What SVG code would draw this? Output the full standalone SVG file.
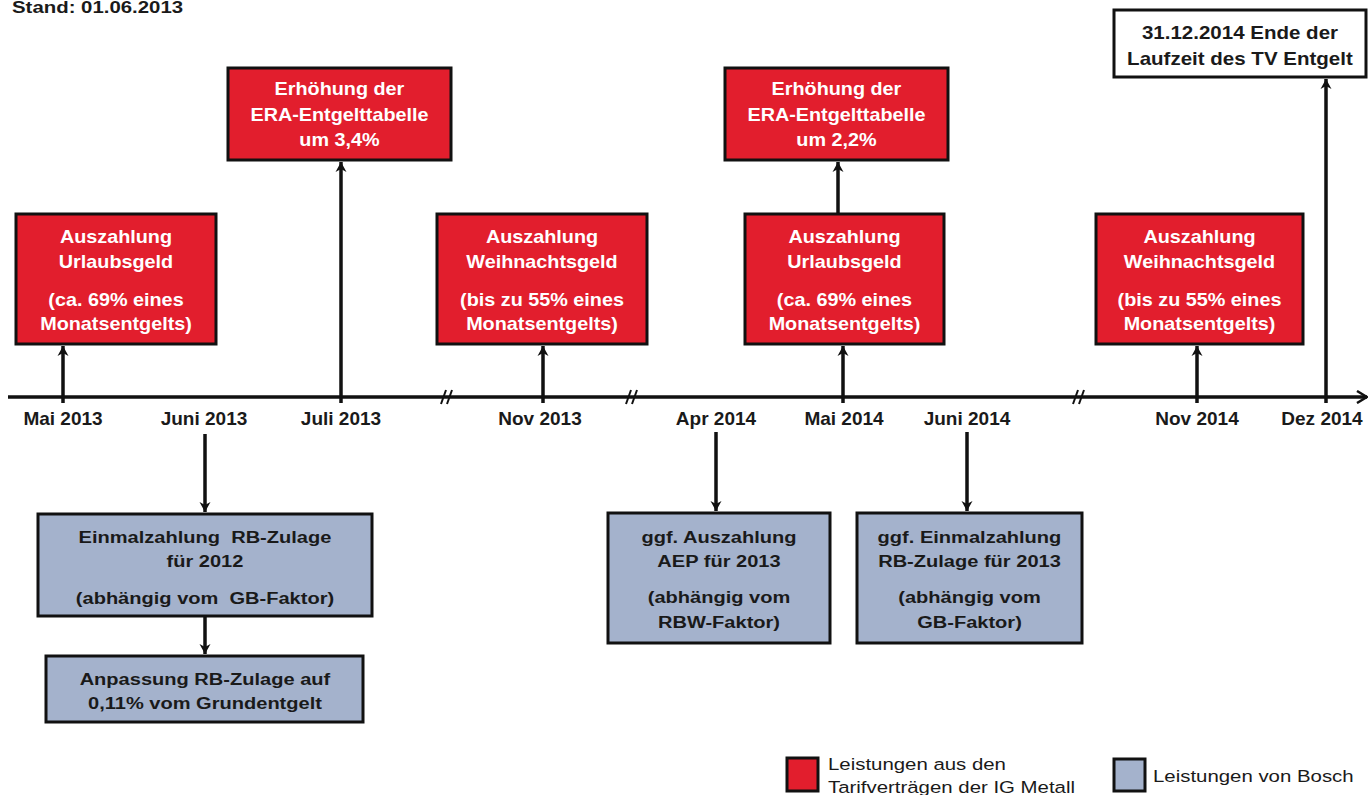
<svg xmlns="http://www.w3.org/2000/svg" width="1369" height="795" viewBox="0 0 1369 795">
<style>
text{font-family:"Liberation Sans",Arial,sans-serif;font-weight:bold;white-space:pre;}
.lbl{font-size:19px;fill:#1a1a1a;text-anchor:middle;}
.rt{font-size:18px;fill:#fff;text-anchor:middle;transform-box:fill-box;transform-origin:center;transform:scaleX(1.1);}
.bt{font-size:17px;fill:#1a1a1a;text-anchor:middle;transform-box:fill-box;transform-origin:center;transform:scaleX(1.18);}
.wt{font-size:18px;fill:#1a1a1a;text-anchor:middle;transform-box:fill-box;transform-origin:center;transform:scaleX(1.14);}
.lg{font-size:17px;font-weight:normal;fill:#1a1a1a;transform-box:fill-box;transform-origin:left center;transform:scaleX(1.2);}
.st{font-size:17px;fill:#1a1a1a;transform-box:fill-box;transform-origin:left center;transform:scaleX(1.2);}
.red{fill:#E21E2D;stroke:#111;stroke-width:3;}
.blue{fill:#A4B2CC;stroke:#111;stroke-width:3;}
.white{fill:#fff;stroke:#111;stroke-width:3;}
.ln{stroke:#111;stroke-width:3.5;fill:none;}
.brk{stroke:#111;stroke-width:2;fill:none;}
</style>
<defs>
<marker id="ah" viewBox="0 0 10 12" refX="10" refY="6" markerWidth="10" markerHeight="12" markerUnits="userSpaceOnUse" orient="auto">
<path d="M0,0.5 L10,6 L0,11.5 L3,6 Z" fill="#111"/>
</marker>
<marker id="ax" viewBox="0 0 12 14" refX="11" refY="7" markerWidth="12" markerHeight="14" markerUnits="userSpaceOnUse" orient="auto">
<path d="M1,1 L11,7 L1,13" fill="none" stroke="#111" stroke-width="2.5"/>
</marker>
</defs>

<text class="st" x="12" y="13">Stand: 01.06.2013</text>

<g id="connectors">
<line class="ln" x1="8" y1="397" x2="1367" y2="397" marker-end="url(#ax)"/>
<path class="brk" d="M441,404 L446,390 M447,404 L452,390"/>
<path class="brk" d="M626,404 L631,390 M632,404 L637,390"/>
<path class="brk" d="M1073,404 L1078,390 M1079,404 L1084,390"/>
<line class="ln" x1="63" y1="403" x2="63" y2="346" marker-end="url(#ah)"/>
<line class="ln" x1="341" y1="403" x2="341" y2="162" marker-end="url(#ah)"/>
<line class="ln" x1="543" y1="403" x2="543" y2="346" marker-end="url(#ah)"/>
<line class="ln" x1="843" y1="403" x2="843" y2="346" marker-end="url(#ah)"/>
<line class="ln" x1="838" y1="213" x2="838" y2="162" marker-end="url(#ah)"/>
<line class="ln" x1="1197" y1="403" x2="1197" y2="346" marker-end="url(#ah)"/>
<line class="ln" x1="1326" y1="403" x2="1326" y2="79" marker-end="url(#ah)"/>
<line class="ln" x1="205" y1="434" x2="205" y2="512" marker-end="url(#ah)"/>
<line class="ln" x1="205" y1="617" x2="205" y2="654" marker-end="url(#ah)"/>
<line class="ln" x1="716" y1="432" x2="716" y2="511" marker-end="url(#ah)"/>
<line class="ln" x1="967" y1="432" x2="967" y2="511" marker-end="url(#ah)"/>
</g>

<g id="labels">
<text class="lbl" x="63" y="425">Mai 2013</text>
<text class="lbl" x="204" y="425">Juni 2013</text>
<text class="lbl" x="341" y="425">Juli 2013</text>
<text class="lbl" x="540" y="425">Nov 2013</text>
<text class="lbl" x="716" y="425">Apr 2014</text>
<text class="lbl" x="844" y="425">Mai 2014</text>
<text class="lbl" x="967" y="425">Juni 2014</text>
<text class="lbl" x="1197" y="425">Nov 2014</text>
<text class="lbl" x="1322" y="425">Dez 2014</text>
</g>

<g id="urlaub2013">
<rect class="red" x="16" y="214" width="200" height="130"/>
<text class="rt" x="116" y="243">Auszahlung</text>
<text class="rt" x="116" y="268">Urlaubsgeld</text>
<text class="rt" x="116" y="306">(ca. 69% eines</text>
<text class="rt" x="116" y="330">Monatsentgelts)</text>
</g>

<g id="era2013">
<rect class="red" x="228" y="68" width="223" height="92"/>
<text class="rt" x="339.5" y="95">Erhöhung der</text>
<text class="rt" x="339.5" y="121">ERA-Entgelttabelle</text>
<text class="rt" x="339.5" y="146">um 3,4%</text>
</g>

<g id="weihnacht2013">
<rect class="red" x="437" y="214" width="210" height="130"/>
<text class="rt" x="542" y="243">Auszahlung</text>
<text class="rt" x="542" y="268">Weihnachtsgeld</text>
<text class="rt" x="542" y="306">(bis zu 55% eines</text>
<text class="rt" x="542" y="330">Monatsentgelts)</text>
</g>

<g id="era2014">
<rect class="red" x="725" y="68" width="223" height="92"/>
<text class="rt" x="836.5" y="95">Erhöhung der</text>
<text class="rt" x="836.5" y="121">ERA-Entgelttabelle</text>
<text class="rt" x="836.5" y="146">um 2,2%</text>
</g>

<g id="urlaub2014">
<rect class="red" x="745" y="214" width="199" height="130"/>
<text class="rt" x="844.5" y="243">Auszahlung</text>
<text class="rt" x="844.5" y="268">Urlaubsgeld</text>
<text class="rt" x="844.5" y="306">(ca. 69% eines</text>
<text class="rt" x="844.5" y="330">Monatsentgelts)</text>
</g>

<g id="weihnacht2014">
<rect class="red" x="1096" y="214" width="207" height="130"/>
<text class="rt" x="1199.5" y="243">Auszahlung</text>
<text class="rt" x="1199.5" y="268">Weihnachtsgeld</text>
<text class="rt" x="1199.5" y="306">(bis zu 55% eines</text>
<text class="rt" x="1199.5" y="330">Monatsentgelts)</text>
</g>

<g id="ende">
<rect class="white" x="1114" y="10" width="252" height="67"/>
<text class="wt" x="1240" y="39">31.12.2014 Ende der</text>
<text class="wt" x="1240" y="65">Laufzeit des TV Entgelt</text>
</g>

<g id="einmal2012">
<rect class="blue" x="38" y="514" width="334" height="102"/>
<text class="bt" x="205" y="543">Einmalzahlung  RB-Zulage</text>
<text class="bt" x="205" y="567">für 2012</text>
<text class="bt" x="205" y="604">(abhängig vom  GB-Faktor)</text>
</g>

<g id="anpassung">
<rect class="blue" x="46" y="656" width="317" height="66"/>
<text class="bt" x="205" y="685">Anpassung RB-Zulage auf</text>
<text class="bt" x="205" y="709">0,11% vom Grundentgelt</text>
</g>

<g id="aep">
<rect class="blue" x="608" y="513" width="222" height="130"/>
<text class="bt" x="719" y="543">ggf. Auszahlung</text>
<text class="bt" x="719" y="567">AEP für 2013</text>
<text class="bt" x="719" y="603">(abhängig vom</text>
<text class="bt" x="719" y="628">RBW-Faktor)</text>
</g>

<g id="einmal2013">
<rect class="blue" x="857" y="513" width="225" height="130"/>
<text class="bt" x="969.5" y="543">ggf. Einmalzahlung</text>
<text class="bt" x="969.5" y="567">RB-Zulage für 2013</text>
<text class="bt" x="969.5" y="603">(abhängig vom</text>
<text class="bt" x="969.5" y="628">GB-Faktor)</text>
</g>

<g id="legend">
<rect class="red" x="787" y="758" width="31" height="33"/>
<text class="lg" x="828" y="770">Leistungen aus den</text>
<text class="lg" x="828" y="793">Tarifverträgen der IG Metall</text>
<rect class="blue" x="1114" y="759" width="31" height="32"/>
<text class="lg" x="1153" y="782">Leistungen von Bosch</text>
</g>
</svg>
